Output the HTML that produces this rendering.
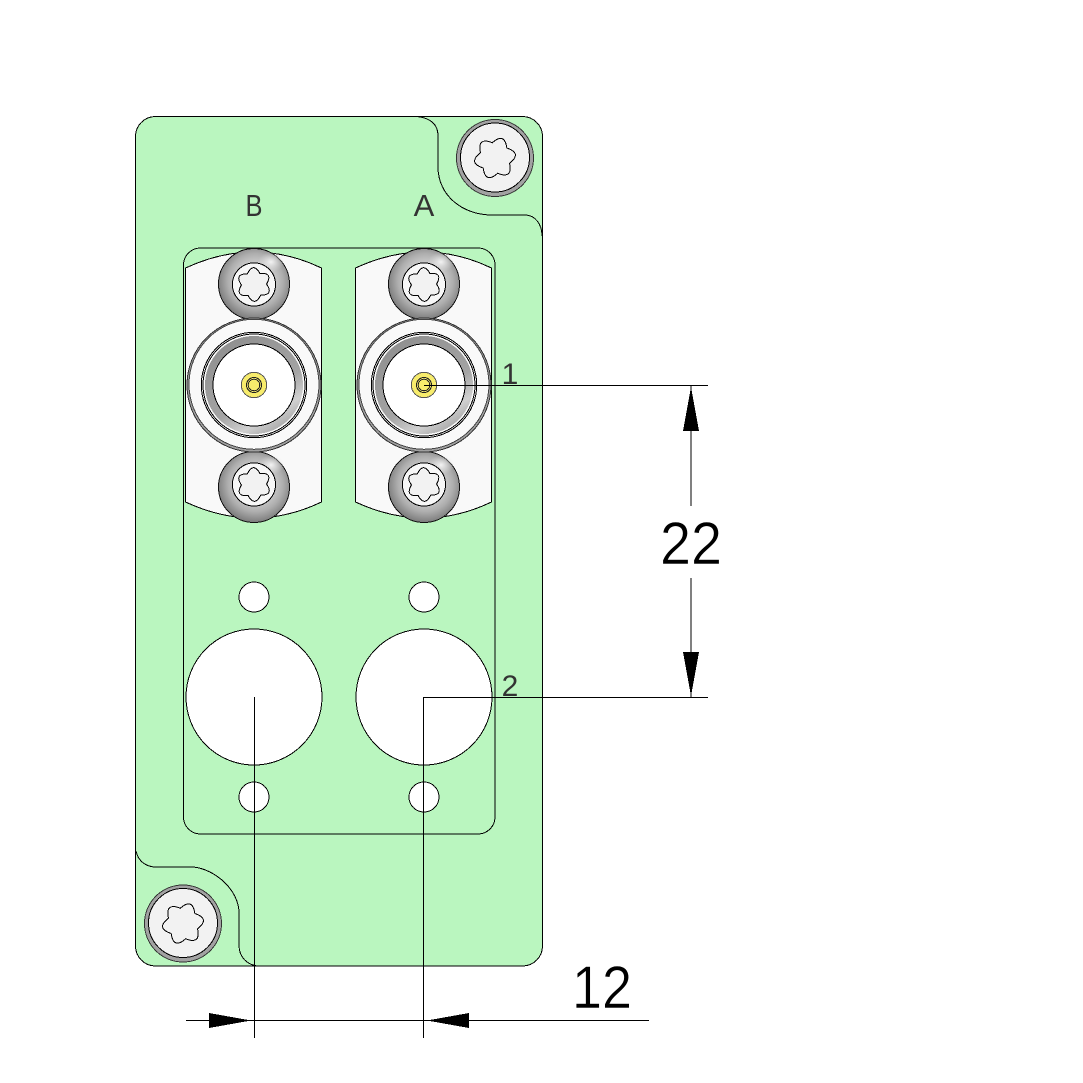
<!DOCTYPE html>
<html><head><meta charset="utf-8"><style>
html,body{margin:0;padding:0;background:#fff}
svg{display:block}
text{font-family:"Liberation Sans",sans-serif}
</style></head><body>
<svg width="1083" height="1083" viewBox="0 0 1083 1083" xmlns="http://www.w3.org/2000/svg" shape-rendering="crispEdges">
<defs>
<radialGradient id="sg" cx="52%" cy="46%" r="54%">
<stop offset="0.5" stop-color="#c8c8c8"/><stop offset="0.72" stop-color="#aeaeae"/><stop offset="1" stop-color="#7c7c7c"/>
</radialGradient>
<radialGradient id="hl" cx="50%" cy="50%" r="50%">
<stop offset="0" stop-color="#f4f4f4" stop-opacity="1"/><stop offset="1" stop-color="#ddd" stop-opacity="0"/>
</radialGradient>
<linearGradient id="ring" x1="0.2" y1="0" x2="0.8" y2="1">
<stop offset="0" stop-color="#8e8e8e"/><stop offset="0.6" stop-color="#a4a4a4"/><stop offset="0.8" stop-color="#d0d0d0"/><stop offset="1" stop-color="#9c9c9c"/>
</linearGradient>
<path id="star" d="M62.4,-36 Q130,0 62.4,36 Q65,112.6 0,72 Q-65,112.6 -62.4,36 Q-130,0 -62.4,-36 Q-65,-112.6 0,-72 Q65,-112.6 62.4,-36Z" fill="#f2f2f2" stroke="#000" stroke-width="1" vector-effect="non-scaling-stroke"/>
<g id="screw">
<circle r="35.5" fill="url(#sg)" stroke="#111" stroke-width="1"/>
<ellipse cx="17" cy="-22" rx="13" ry="10" fill="url(#hl)"/>
<circle r="21.6" cy="0.5" fill="#f7f7f7" stroke="#000" stroke-width="1"/>
<use href="#star" transform="translate(0,0.5) rotate(-92) scale(.175)"/>
</g>
<g id="screwlow">
<circle r="35.5" fill="url(#sg)" stroke="#111" stroke-width="1"/>
<ellipse cx="17" cy="-22" rx="13" ry="10" fill="url(#hl)"/>
<circle r="21.6" cy="-2.5" fill="#f7f7f7" stroke="#000" stroke-width="1"/>
<use href="#star" transform="translate(0,-2.5) rotate(-92) scale(.175)"/>
</g>
<g id="bigscrew">
<circle r="38.5" fill="#a2a2a2" stroke="#333" stroke-width="1"/>
<circle r="34.5" cy="-0.5" fill="#f2f2f2" stroke="#000" stroke-width="1"/>
<use href="#star" transform="rotate(-70) scale(.215)"/>
</g>
<g id="conn">
<circle r="67" fill="#a0a0a0" stroke="#333" stroke-width="1"/>
<circle r="65" cy="-0.7" fill="#f9f9f9" stroke="#444" stroke-width="1"/>
<circle r="52.7" fill="none" stroke="#000" stroke-width="1"/>
<circle r="51" fill="none" stroke="#000" stroke-width="1"/>
<circle r="49" fill="url(#ring)"/>
<circle r="41" fill="#fff" stroke="#000" stroke-width="1"/>
<circle r="12.7" fill="#f7ec6c" stroke="#555" stroke-width="1"/>
<circle r="7.5" fill="none" stroke="#222" stroke-width="1"/>
<circle r="5.8" fill="none" stroke="#222" stroke-width="1"/>
</g>
</defs>

<!-- plate -->
<path d="M155.5,116.5 H522.5 A20,20 0 0 1 542.5,136.5 V946 A20,20 0 0 1 522.5,966 H155.5 A20,20 0 0 1 135.5,946 V136.5 A20,20 0 0 1 155.5,116.5Z" fill="#baf6bf" stroke="#000" stroke-width="1"/>
<path d="M417,116.5 C430,118 438,124 438,136 V167 C438,195 462,215 492,215 H525 C535,215 542,224 542,236" fill="none" stroke="#000" stroke-width="1"/>
<path d="M136,851 C138,861 146,867 156,867 H193 C215,869 239,890 239,913 V945 C239,957 247,965 258,966" fill="none" stroke="#000" stroke-width="1"/>
<!-- inner panel -->
<rect x="183.5" y="248" width="311.5" height="586" rx="17" fill="none" stroke="#000" stroke-width="1"/>

<!-- mounting plates -->
<path d="M185.5,268 Q220,252 254,252 Q288,252 321.5,268 V502 Q288,518 254,518 Q220,518 185.5,502Z" fill="#f9f9f9" stroke="#000" stroke-width="1"/>
<path d="M355.5,268 Q390,252 424,252 Q458,252 491.5,268 V502 Q458,518 424,518 Q390,518 355.5,502Z" fill="#f9f9f9" stroke="#000" stroke-width="1"/>

<use href="#screw" x="254" y="284"/>
<use href="#screw" x="424" y="284"/>
<use href="#screwlow" x="254" y="487"/>
<use href="#screwlow" x="424" y="487"/>
<use href="#conn" x="254" y="385"/>
<use href="#conn" x="424" y="385"/>

<use href="#bigscrew" x="495" y="158"/>
<use href="#bigscrew" x="183" y="923.5"/>

<!-- holes -->
<g fill="#fff" stroke="#000" stroke-width="1">
<circle cx="254" cy="597" r="15"/><circle cx="424" cy="597" r="15"/>
<circle cx="254" cy="797" r="15"/><circle cx="424" cy="797" r="15"/>
<circle cx="254" cy="697" r="68"/><circle cx="424" cy="697" r="68"/>
</g>

<!-- labels -->
<g fill="#333" font-size="31" text-anchor="middle" font-weight="400">
<text x="254" y="216" textLength="17" lengthAdjust="spacingAndGlyphs">B</text>
<text x="424" y="216">A</text>
<text x="510" y="384" font-size="30">1</text>
<text x="510" y="696" font-size="30">2</text>
</g>

<!-- dimension lines -->
<g stroke="#000" stroke-width="1" fill="none">
<path d="M424,385.5 H708"/>
<path d="M424,697.5 H708"/>
<path d="M254.5,697 V1038"/>
<path d="M423.5,697 V1038"/>
<path d="M691,386 V506 M691,578 V697"/>
<path d="M186,1020.5 H649"/>
</g>
<g fill="#000">
<polygon points="691,387 699,431 683,431"/>
<polygon points="691,696 699,652 683,652"/>
<polygon points="251,1020.5 209,1013 209,1028"/>
<polygon points="427,1020.5 469,1013 469,1028"/>
</g>
<g fill="#000" stroke="#fff" stroke-width="0.6" font-size="60" text-anchor="middle">
<text x="691" y="564" textLength="62" lengthAdjust="spacingAndGlyphs">22</text>
<text x="602" y="1008" textLength="60" lengthAdjust="spacingAndGlyphs">12</text>
</g>
</svg>
</body></html>
